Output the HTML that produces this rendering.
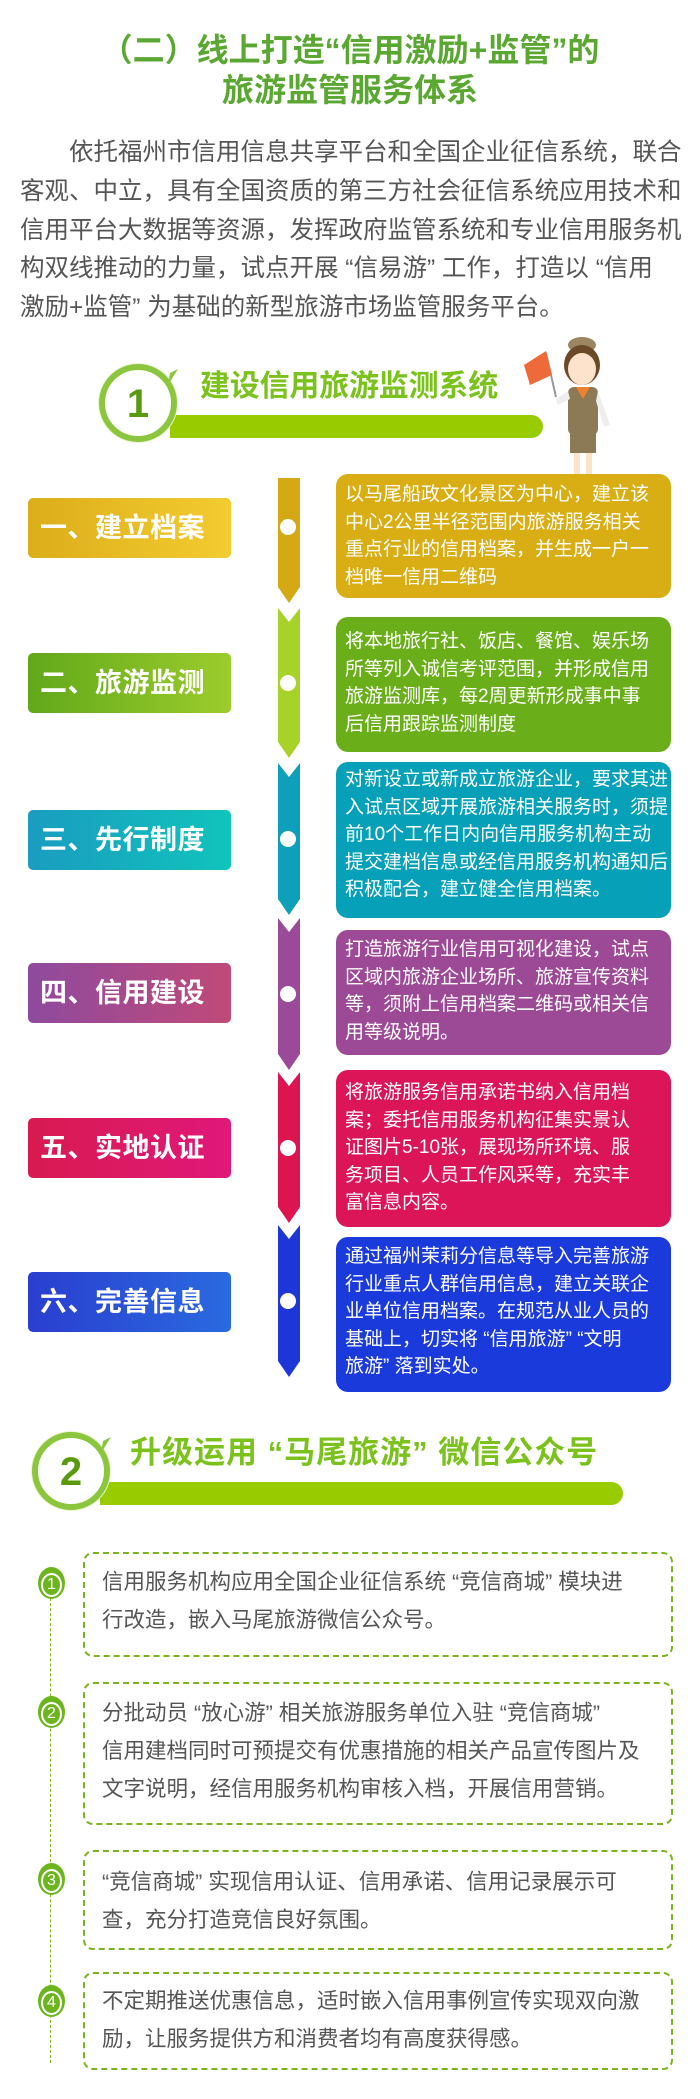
<!DOCTYPE html>
<html><head><meta charset="utf-8">
<style>
*{margin:0;padding:0;box-sizing:border-box}
body{width:700px;height:2099px;background:#fff;position:relative;overflow:hidden;font-family:"Liberation Sans","Noto Sans CJK SC",sans-serif}
.a{position:absolute}
.t{position:absolute;left:0;width:700px;text-align:center;color:#5aa832;font-weight:bold;font-size:32px;line-height:40px}
.p{position:absolute;left:20px;width:670px;color:#555;font-size:24.5px;line-height:38.7px;white-space:nowrap}
.lab{position:absolute;left:28px;width:203px;height:60px;border-radius:5px;color:#fff;font-weight:bold;font-size:27px;line-height:60px;padding-left:12px;letter-spacing:0.5px}
.box{position:absolute;left:336px;width:335px;border-radius:12px}
.tx{position:absolute;left:345px;color:#fff;font-size:19px;line-height:27.5px;white-space:nowrap}
.db{position:absolute;left:83px;width:590px;border:2px dashed #7ab51d;border-radius:10px}
.dt{position:absolute;left:102px;color:#555;font-size:21.5px;line-height:38px;white-space:nowrap}
.num{position:absolute;left:38px;width:27px;height:32px;border-radius:50%;background:#6db51f;color:#fff;font-size:20px;line-height:32px;text-align:center}
.num span{display:inline-block;width:21px;height:24px;border:2px solid #fff;border-radius:50%;line-height:20px;font-size:16px;margin-top:4px}
.st{position:absolute;color:#7cc21c;font-weight:bold;font-size:30px;line-height:36px;white-space:nowrap}
</style></head><body>

<div class="t" style="top:30px">（二）线上打造“信用激励+监管”的</div>
<div class="t" style="top:70px">旅游监管服务体系</div>

<div class="p" style="top:134px">　　依托福州市信用信息共享平台和全国企业征信系统，联合</div>
<div class="p" style="top:173px">客观、中立，具有全国资质的第三方社会征信系统应用技术和</div>
<div class="p" style="top:212px">信用平台大数据等资源，发挥政府监管系统和专业信用服务机</div>
<div class="p" style="top:250px">构双线推动的力量，试点开展 “信易游” 工作，打造以 “信用</div>
<div class="p" style="top:289px">激励+监管” 为基础的新型旅游市场监管服务平台。</div>

<!-- section 1 header -->
<div class="a" style="left:170px;top:415px;width:373px;height:23px;background:#99cc00;border-radius:0 12px 12px 0"></div>
<svg class="a" style="left:90px;top:355px" width="100" height="100">
<circle cx="48" cy="48" r="40" fill="#eaf5d0"/>
<circle cx="48" cy="48" r="36" fill="#fff" stroke="#8cc63f" stroke-width="6"/>
<path d="M78 30 L88 14 L80 18 Z" fill="#8cc63f"/>
<text x="48" y="62" text-anchor="middle" font-size="40" font-weight="bold" fill="#5a9a10" font-family="Liberation Sans">1</text>
</svg>
<div class="st" style="left:200px;top:369px;letter-spacing:-0.2px">建设信用旅游监测系统</div>
<!-- girl -->
<svg class="a" style="left:510px;top:335px" width="110" height="140">
<line x1="36" y1="18" x2="46" y2="62" stroke="#999" stroke-width="2"/>
<path d="M14 30 L36 16 L42 40 L20 50 Z" fill="#ef6a3a"/>
<ellipse cx="72" cy="10" rx="14" ry="8" fill="#9a8660"/>
<ellipse cx="72" cy="30" rx="18" ry="20" fill="#6b4a2a"/>
<ellipse cx="72" cy="34" rx="14" ry="16" fill="#fde2cc"/>
<rect x="58" y="52" width="30" height="48" rx="6" fill="#8c7a56"/>
<path d="M66 52 L73 64 L80 52 Z" fill="#f08030"/>
<path d="M58 56 L46 64 L48 70 L60 64 Z" fill="#eee"/>
<path d="M88 56 L100 90 L94 92 L86 66 Z" fill="#eee"/>
<rect x="60" y="98" width="26" height="20" fill="#8c7a56"/>
<rect x="64" y="118" width="6" height="22" fill="#fde2cc"/>
<rect x="76" y="118" width="6" height="22" fill="#fde2cc"/>
</svg>

<!-- arrows -->
<svg class="a" style="left:0;top:0" width="700" height="1400">
<g>
<polygon points="278,478 300,478 300,587 289,603 278,587" fill="#d4a915"/>
<polygon points="278,608 289,622 300,608 300,742 289,758 278,742" fill="#a6d22a"/>
<polygon points="278,763 289,777 300,763 300,899 289,915 278,899" fill="#0e9fbb"/>
<polygon points="278,918 289,932 300,918 300,1054 289,1070 278,1054" fill="#9a4a98"/>
<polygon points="278,1072 289,1086 300,1072 300,1207 289,1223 278,1207" fill="#dc1550"/>
<polygon points="278,1225 289,1239 300,1225 300,1361 289,1377 278,1361" fill="#1c36d8"/>
</g>
<g fill="#fff">
<circle cx="288" cy="527" r="8"/><circle cx="288" cy="683" r="8"/><circle cx="288" cy="839" r="8"/>
<circle cx="288" cy="994" r="8"/><circle cx="288" cy="1148" r="8"/><circle cx="288" cy="1301" r="8"/>
</g>
</svg>

<!-- labels -->
<div class="lab" style="top:498px;background:linear-gradient(90deg,#dcae1a,#f3cc30)">一、建立档案</div>
<div class="lab" style="top:653px;background:linear-gradient(90deg,#62a81a,#9ccc2c)">二、旅游监测</div>
<div class="lab" style="top:810px;background:linear-gradient(90deg,#1a9cc0,#10c4bc)">三、先行制度</div>
<div class="lab" style="top:963px;background:linear-gradient(90deg,#8e4a9e,#c04a78)">四、信用建设</div>
<div class="lab" style="top:1118px;background:linear-gradient(90deg,#d81a50,#e0187a)">五、实地认证</div>
<div class="lab" style="top:1272px;background:linear-gradient(90deg,#2a3ed0,#2a6ae0)">六、完善信息</div>

<!-- content boxes -->
<div class="box" style="top:474px;height:124px;background:#d8ae14"></div>
<div class="box" style="top:617px;height:135px;background:#6aaf1a"></div>
<div class="box" style="top:762px;height:156px;background:#06a0b8"></div>
<div class="box" style="top:930px;height:125px;background:#9c4996"></div>
<div class="box" style="top:1070px;height:157px;background:#dc1558"></div>
<div class="box" style="top:1237px;height:155px;background:#1a3adc"></div>

<div class="tx" style="top:481px">以马尾船政文化景区为中心，建立该<br>中心2公里半径范围内旅游服务相关<br>重点行业的信用档案，并生成一户一<br>档唯一信用二维码</div>
<div class="tx" style="top:628px">将本地旅行社、饭店、餐馆、娱乐场<br>所等列入诚信考评范围，并形成信用<br>旅游监测库，每2周更新形成事中事<br>后信用跟踪监测制度</div>
<div class="tx" style="top:766px">对新设立或新成立旅游企业，要求其进<br>入试点区域开展旅游相关服务时，须提<br>前10个工作日内向信用服务机构主动<br>提交建档信息或经信用服务机构通知后<br>积极配合，建立健全信用档案。</div>
<div class="tx" style="top:936px">打造旅游行业信用可视化建设，试点<br>区域内旅游企业场所、旅游宣传资料<br>等，须附上信用档案二维码或相关信<br>用等级说明。</div>
<div class="tx" style="top:1079px">将旅游服务信用承诺书纳入信用档<br>案；委托信用服务机构征集实景认<br>证图片5-10张，展现场所环境、服<br>务项目、人员工作风采等，充实丰<br>富信息内容。</div>
<div class="tx" style="top:1243px">通过福州茉莉分信息等导入完善旅游<br>行业重点人群信用信息，建立关联企<br>业单位信用档案。在规范从业人员的<br>基础上，切实将 “信用旅游” “文明<br>旅游” 落到实处。</div>

<!-- section 2 header -->
<div class="a" style="left:100px;top:1482px;width:523px;height:23px;background:#99cc00;border-radius:0 12px 12px 0"></div>
<svg class="a" style="left:23px;top:1423px" width="100" height="100">
<circle cx="48" cy="48" r="40" fill="#eaf5d0"/>
<circle cx="48" cy="48" r="36" fill="#fff" stroke="#8cc63f" stroke-width="6"/>
<path d="M78 30 L88 14 L80 18 Z" fill="#8cc63f"/>
<text x="48" y="62" text-anchor="middle" font-size="40" font-weight="bold" fill="#5a9a10" font-family="Liberation Sans">2</text>
</svg>
<div class="st" style="left:130px;top:1435px;font-size:31px;letter-spacing:1px">升级运用 “马尾旅游” 微信公众号</div>

<!-- dashed line -->
<div class="a" style="left:50px;top:1583px;height:480px;border-left:1px dashed #7ab51d"></div>

<div class="db" style="top:1552px;height:105px"></div>
<div class="db" style="top:1682px;height:143px"></div>
<div class="db" style="top:1850px;height:100px"></div>
<div class="db" style="top:1972px;height:98px"></div>

<div class="num" style="top:1567px"><span>1</span></div>
<div class="num" style="top:1696px"><span>2</span></div>
<div class="num" style="top:1863px"><span>3</span></div>
<div class="num" style="top:1985px"><span>4</span></div>

<div class="dt" style="top:1563px">信用服务机构应用全国企业征信系统 “竞信商城” 模块进<br>行改造，嵌入马尾旅游微信公众号。</div>
<div class="dt" style="top:1694px">分批动员 “放心游” 相关旅游服务单位入驻 “竞信商城”<br>信用建档同时可预提交有优惠措施的相关产品宣传图片及<br>文字说明，经信用服务机构审核入档，开展信用营销。</div>
<div class="dt" style="top:1863px">“竞信商城” 实现信用认证、信用承诺、信用记录展示可<br>查，充分打造竞信良好氛围。</div>
<div class="dt" style="top:1982px">不定期推送优惠信息，适时嵌入信用事例宣传实现双向激<br>励，让服务提供方和消费者均有高度获得感。</div>

</body></html>
